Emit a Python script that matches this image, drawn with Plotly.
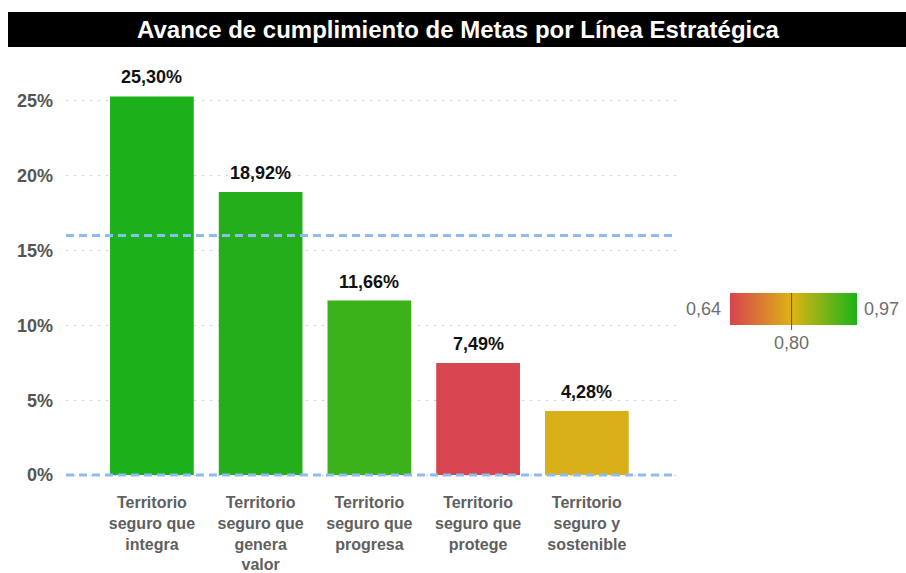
import plotly.graph_objects as go

categories = [
    "Territorio<br>seguro que<br>integra",
    "Territorio<br>seguro que<br>genera<br>valor",
    "Territorio<br>seguro que<br>progresa",
    "Territorio<br>seguro que<br>protege",
    "Territorio<br>seguro y<br>sostenible",
]
values = [25.30, 18.92, 11.66, 7.49, 4.28]
bar_colors = ["#1bb11b", "#24ae1c", "#3bb11a", "#d64550", "#d8b018"]
target_line = 16
y_ticks = [0, 5, 10, 15, 20, 25]
y_tick_text = [f"{v}%" for v in y_ticks]
scale_min, scale_mid, scale_max = 0.64, 0.80, 0.97
scale_colors = ["#d9434f", "#dcb414", "#19b319"]
title_text = "Avance de cumplimiento de Metas por Línea Estratégica"

W, H = 906, 573
L, R = 66, 857          # paper area pixels (x)
T, B = 62, 481          # paper area pixels (y)
MAIN_R = 676            # right edge of bar plot
CB_L = 730              # left edge of colour scale

def px(x):
    return (x - L) / (R - L)

def py(y):
    return (B - y) / (B - T)

fmt = lambda v: f"{v:.2f}".replace(".", ",")

fig = go.Figure()
fig.add_trace(go.Bar(
    x=categories, y=values, marker=dict(color=bar_colors, line=dict(width=0)),
    showlegend=False, hoverinfo="skip",
))

mid_frac = (scale_mid - scale_min) / (scale_max - scale_min)
fig.add_trace(go.Heatmap(
    z=[[scale_min, scale_max], [scale_min, scale_max]], x=[scale_min, scale_max], y=[0, 1],
    zmin=scale_min, zmax=scale_max, zsmooth="best",
    colorscale=[[0, scale_colors[0]], [mid_frac, scale_colors[1]], [1, scale_colors[2]]],
    showscale=False, hoverinfo="skip", xaxis="x2", yaxis="y2",
))

annotations = []
for c, v in zip(categories, values):
    annotations.append(dict(
        x=c, y=v, xref="x", yref="y", text=fmt(v) + "%", showarrow=False,
        yanchor="bottom", yshift=7,
        font=dict(family="Liberation Sans", size=18, color="#111111", weight=700),
    ))

annotations.append(dict(
    x=px(458), y=py(29.5), xref="paper", yref="paper", text=title_text,
    showarrow=False, xanchor="center", yanchor="middle",
    font=dict(family="Liberation Sans", size=24, color="white", weight=700),
))
lab_font = dict(family="Liberation Sans", size=18, color="#6e6e6e")
annotations += [
    dict(x=scale_min, y=0.5, xref="x2", yref="y2", text=fmt(scale_min), xshift=-7,
         showarrow=False, xanchor="right", yanchor="middle", font=lab_font),
    dict(x=scale_max, y=0.5, xref="x2", yref="y2", text=fmt(scale_max), xshift=5,
         showarrow=False, xanchor="left", yanchor="middle", font=lab_font),
    dict(x=scale_mid, y=0, xref="x2", yref="y2", text=fmt(scale_mid), yshift=-6,
         showarrow=False, xanchor="center", yanchor="top", font=lab_font),
]

shapes = [
    dict(type="rect", xref="paper", yref="paper", x0=px(8), x1=px(906), y0=py(47), y1=py(12),
         fillcolor="black", line=dict(width=0), layer="below"),
    dict(type="line", xref="x domain", yref="y", x0=0, x1=1, y0=target_line, y1=target_line,
         line=dict(color="#8dbcf2", width=3, dash="8px,5px")),
    dict(type="line", xref="x domain", yref="y", x0=0, x1=1, y0=0, y1=0,
         line=dict(color="#8dbcf2", width=3, dash="8px,5px")),
    dict(type="line", xref="x2", yref="paper", x0=scale_mid, x1=scale_mid, y0=py(330), y1=py(293),
         line=dict(color="#555555", width=1)),
]

fig.update_layout(
    width=W, height=H,
    margin=dict(l=L, r=W - R, t=T, b=H - B, autoexpand=False),
    paper_bgcolor="white", plot_bgcolor="white",
    bargap=0.23,
    annotations=annotations, shapes=shapes,
    xaxis=dict(
        domain=[0, px(MAIN_R)],
        range=[-0.79, 4.82], showgrid=False, zeroline=False, showline=False, ticks="",
        ticklabelstandoff=10,
        tickfont=dict(family="Liberation Sans", size=16, color="#5f5f5f", weight=700),
        fixedrange=True,
    ),
    yaxis=dict(
        range=[-0.4, 27.6], tickvals=y_ticks, ticktext=y_tick_text,
        showgrid=True, gridcolor="#cfcfcf", gridwidth=1, griddash="2px,6px",
        zeroline=False, showline=False, ticks="", ticklabelstandoff=12,
        tickfont=dict(family="Liberation Sans", size=18, color="#555555", weight=700),
        fixedrange=True,
    ),
    xaxis2=dict(domain=[px(CB_L), 1], range=[scale_min, scale_max], visible=False,
                anchor="y2", fixedrange=True),
    yaxis2=dict(domain=[py(325), py(293)], range=[0, 1], visible=False,
                anchor="x2", fixedrange=True),
)

fig.write_html(
    "out.html",
    config={"displayModeBar": False},
    post_script="document.body.style.margin='0px';document.body.style.overflow='hidden';",
)
